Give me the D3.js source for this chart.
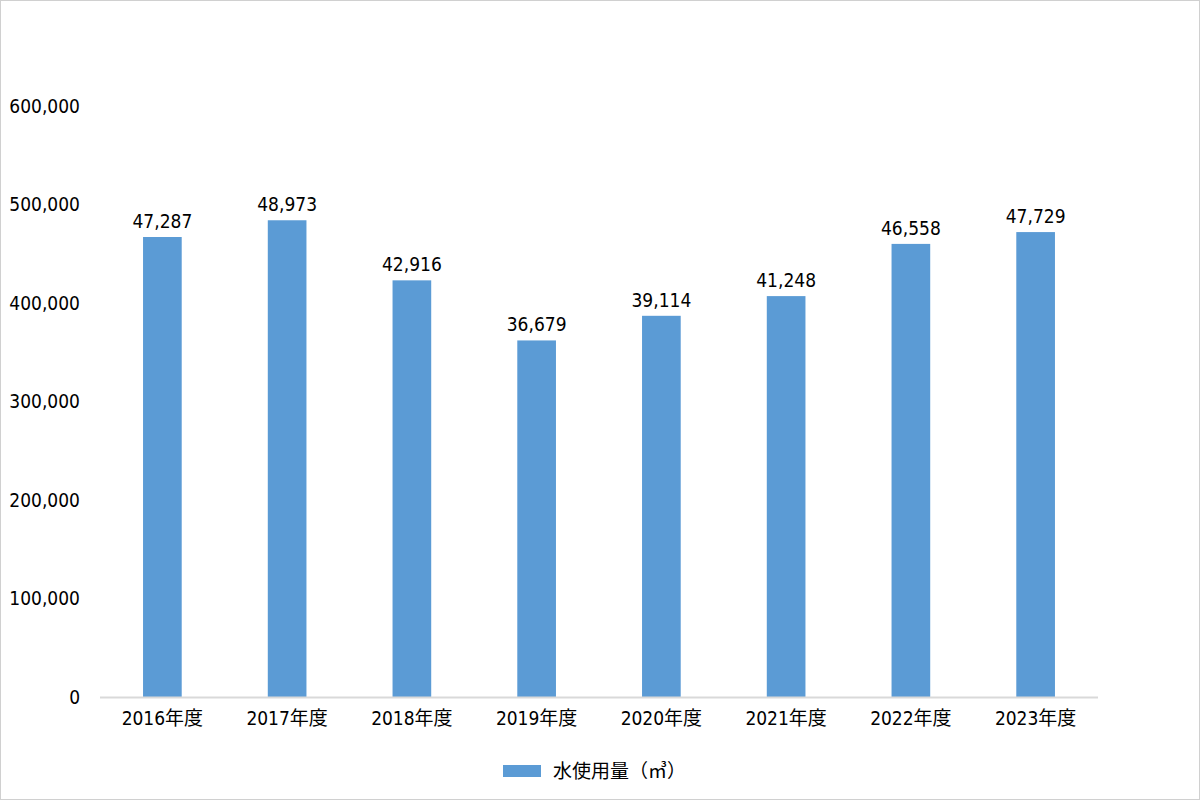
<!DOCTYPE html>
<html><head><meta charset="utf-8">
<script src="https://cdn.jsdelivr.net/npm/d3@7"></script>
<style>
body{margin:0;background:#fff}
text{font-family:"Liberation Sans Narrow","DejaVu Sans Condensed","Noto Sans CJK JP",sans-serif;fill:#000}
</style></head>
<body><svg id="chart" width="1201" height="801"></svg>
<script>
'use strict';

const years = ['2016年度','2017年度','2018年度','2019年度','2020年度','2021年度','2022年度','2023年度'];
// bar heights as drawn in the picture
const barValues = [467000, 484000, 423000, 362000, 387000, 407000, 460000, 472000];
// data labels printed above the bars
const labelValues = ['47,287','48,973','42,916','36,679','39,114','41,248','46,558','47,729'];
const yTicks = [0, 100000, 200000, 300000, 400000, 500000, 600000];
const seriesName = '水使用量（㎥）';

const svg = d3.select('#chart');
const color = '#5b9bd5';

svg.append('rect').attr('x', 0.5).attr('y', 0.5).attr('width', 1199).attr('height', 799)
  .attr('fill', 'none').attr('stroke', '#d0d0d0');

const x = d3.scaleBand().domain(years).range([100, 1098]).paddingInner(0.69).paddingOuter(0.345);
const y = d3.scaleLinear().domain([0, 600000]).range([697, 106]);

const fmt = d3.format(',');

svg.append('g').selectAll('text').data(yTicks).join('text')
  .attr('x', 80).attr('y', d => y(d)).attr('dy', '0.35em')
  .attr('text-anchor', 'end').attr('font-size', 19)
  .text(d => fmt(d));

svg.append('g').selectAll('rect').data(barValues).join('rect')
  .attr('x', (d, i) => x(years[i])).attr('width', x.bandwidth())
  .attr('y', d => y(d)).attr('height', d => y(0) - y(d))
  .attr('fill', color);

svg.append('g').selectAll('text').data(barValues).join('text')
  .attr('x', (d, i) => x(years[i]) + x.bandwidth() / 2).attr('y', d => y(d) - 9)
  .attr('text-anchor', 'middle').attr('font-size', 19)
  .text((d, i) => labelValues[i]);

svg.append('line').attr('x1', 100).attr('x2', 1098).attr('y1', y(0) + 0.5).attr('y2', y(0) + 0.5)
  .attr('stroke', '#d9d9d9').attr('stroke-width', 2);

svg.append('g').selectAll('text').data(years).join('text')
  .attr('x', d => x(d) + x.bandwidth() / 2).attr('y', 725)
  .attr('text-anchor', 'middle').attr('font-size', 19)
  .text(d => d);

svg.append('rect').attr('x', 503).attr('y', 765).attr('width', 38).attr('height', 12).attr('fill', color);
svg.append('text').attr('x', 553).attr('y', 771).attr('dy', '0.35em').attr('font-size', 19).text(seriesName);
</script></body></html>
